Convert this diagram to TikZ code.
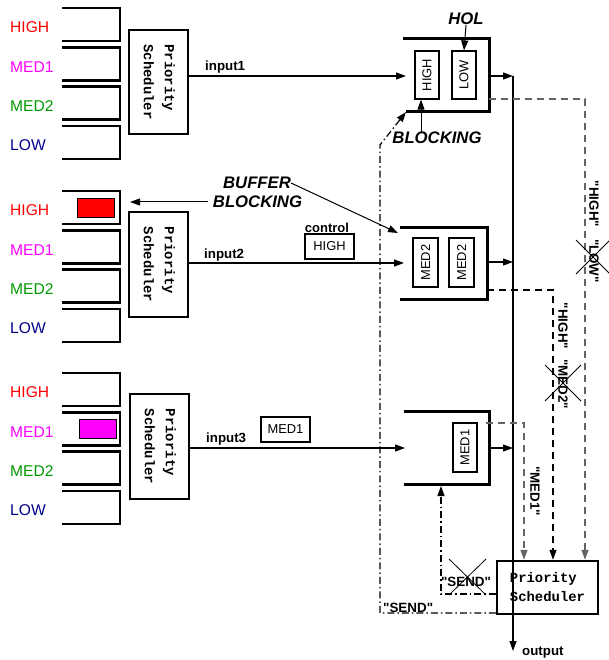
\documentclass[tikz,border=0pt]{standalone}
\usepackage{fontspec}
\setmainfont{Liberation Sans}
\setmonofont{Liberation Mono}
\newfontfamily\qfont{Liberation Sans}[Ligatures=NoCommon]
\usetikzlibrary{arrows.meta}
\definecolor{qhigh}{RGB}{255,0,0}
\definecolor{qmedone}{RGB}{255,0,255}
\definecolor{qmedtwo}{RGB}{0,153,0}
\definecolor{qlow}{RGB}{0,0,140}
\definecolor{dgray}{RGB}{100,100,100}
\newcommand{\schedtxt}{\begin{tabular}{@{}l@{}}Priority\\Scheduler\end{tabular}}
\newcommand{\myq}{{\qfont"}}
\tikzset{
 queue/.style={line width=2.5pt},
 qlabel/.style={anchor=west, inner sep=0pt, font=\fontsize{15.6}{18}\selectfont},
 vsched/.style={draw, line width=2.5pt, minimum width=59pt, minimum height=104pt, inner sep=0pt,
   font=\fontsize{13.9}{19}\ttfamily\bfseries\renewcommand{\arraystretch}{1.1}},
 holframe/.style={line width=3pt},
 ibox/.style={draw, line width=1.2pt, minimum width=24pt, minimum height=48pt, inner sep=0pt, font=\fontsize{12.9}{15}\selectfont},
 pkt/.style={draw, line width=1.2pt, minimum width=49pt, minimum height=25pt, inner sep=0pt, font=\fontsize{12.9}{15}\selectfont},
 arr/.style={line width=1.2pt, -{Triangle[length=10pt,width=7pt]}},
 thinarr/.style={line width=1pt, -{Triangle[length=10pt,width=7pt]}},
 blabel/.style={inner sep=0pt, font=\fontsize{13.3}{16}\selectfont\bfseries},
 bigital/.style={inner sep=0pt, font=\fontsize{16.7}{19}\selectfont\bfseries\itshape},
 vlabel/.style={inner sep=0pt, rotate=-90, font=\fontsize{13.4}{16}\selectfont\bfseries},
 dashedln/.style={line width=1.2pt, dash pattern=on 7pt off 5pt},
 dashdot/.style={line width=1.1pt, dash pattern=on 7pt off 3pt on 1.5pt off 3pt},
 crossln/.style={line width=0.8pt},
}
\begin{document}
\begin{tikzpicture}[x=1pt,y=-1pt]
\useasboundingbox (0,0) rectangle (608,660);

% ---- input queues ----
\foreach \g/\b in {1/8,2/191,3/373}{
  \foreach \k in {0,...,3}{
    \pgfmathsetmacro\t{\b+39.3*\k}
    \draw[queue] (62,\t) -- (120,\t) -- (120,{\t+33}) -- (62,{\t+33});
  }
  \node[qlabel,text=qhigh]   (hi\g) at (10,{\b+19.5}) {HIGH};
  \node[qlabel,text=qmedone] (mo\g) at (10,{\b+39.3+19.5}) {MED1};
  \node[qlabel,text=qmedtwo] (mt\g) at (10,{\b+78.6+19.5}) {MED2};
  \node[qlabel,text=qlow]    (lo\g) at (10,{\b+117.9+19.5}) {LOW};
}
\node[draw, line width=1pt, fill=qhigh, minimum width=37pt, minimum height=18pt, inner sep=0pt] (redpkt) at (95.5,208) {};
\node[draw, line width=1pt, fill=qmedone, minimum width=37pt, minimum height=19pt, inner sep=0pt] (magpkt) at (97.5,428.5) {};

% ---- input schedulers ----
\node[vsched] (s1) at (158.5,82) {\rotatebox{-90}{\schedtxt}};
\node[vsched, minimum height=105pt] (s2) at (158.5,264.5) {\rotatebox{-90}{\schedtxt}};
\node[vsched, minimum height=105pt] (s3) at (159.5,446.5) {\rotatebox{-90}{\schedtxt}};

% ---- output buffers ----
\draw[holframe] (403,39) -- (489,39) -- (489,112) -- (406,112);
\draw[holframe] (400,227) -- (487,227) -- (487,299) -- (400,299);
\draw[holframe] (404,411) -- (489,411) -- (489,484) -- (404,484);
\coordinate (b1bl) at (406,112);
\coordinate (b2tl) at (398,233);
\coordinate (b3bl) at (441,486);

\node[ibox] (b1hi) at (427,75) {\rotatebox{90}{HIGH}};
\node[ibox] (b1lo) at (464,75) {\rotatebox{90}{LOW}};
\node[ibox, minimum width=25pt, minimum height=49pt] (b2a) at (425.5,262.5) {\rotatebox{90}{MED2}};
\node[ibox, minimum width=25pt, minimum height=49pt] (b2b) at (461.5,262.5) {\rotatebox{90}{MED2}};
\node[ibox, minimum height=49pt] (b3a) at (465,447.5) {\rotatebox{90}{MED1}};

% ---- inputs ----
\coordinate (b1in) at (406,76);
\coordinate (b2in) at (404,263);
\coordinate (b3in) at (405,448);
\draw[arr] (s1.east |- b1in) -- (b1in);
\draw[arr] (s2.east |- b2in) -- (b2in);
\draw[arr] (s3.east |- b3in) -- (b3in);
\node[blabel, anchor=base west] (in1) at (205,71) {input1};
\node[blabel, anchor=base west] (in2) at (204,258) {input2};
\node[blabel, anchor=base west] (in3) at (206,442) {input3};
\node[blabel, font=\fontsize{13}{15}\selectfont\bfseries] (ctrl) at (327,228) {control};
\node[pkt] (ctrlpkt) at (329.5,246.5) {HIGH};
\node[pkt] (medpkt) at (285.5,429.5) {MED1};

% ---- output bus ----
\node[draw, line width=2.5pt, minimum width=101pt, minimum height=53pt, inner sep=0pt, align=left,
  font=\fontsize{13.9}{19}\ttfamily\bfseries] (s4) at (547.5,587.5) {Priority\\Scheduler};
\coordinate (outtop) at (513,76);
\coordinate (outbot) at (513,651);
\coordinate (b1out) at (489,76);
\coordinate (b2out) at (487,262);
\coordinate (b3out) at (489,448);
\draw[arr] (b1out) -- (outtop);
\draw[arr] (b2out) -- (outtop |- b2out);
\draw[arr] (b3out) -- (outtop |- b3out);
\draw[arr] (outtop) -- (outbot);
\node[blabel, anchor=base west] (outlbl) at (522,655) {output};

% ---- request lines ----
\coordinate (d1a) at (489,99);  \coordinate (d1b) at (585,99);
\coordinate (d2a) at (487,290); \coordinate (d2b) at (553,290);
\coordinate (d3a) at (486,423); \coordinate (d3b) at (524,423);
\draw[dashedln, dgray, arr] (d1a) -- (d1b) -- (d1b |- s4.north);
\draw[dashedln, arr] (d2a) -- (d2b) -- (d2b |- s4.north);
\draw[dashedln, dgray, arr] (d3a) -- (d3b) -- (d3b |- s4.north);

\node[vlabel] (lh1) at (594,204) {\myq HIGH\myq};
\node[vlabel] (ll1) at (594,261) {\myq LOW\myq};
\node[vlabel] (lh2) at (563,326) {\myq HIGH\myq};
\node[vlabel] (lm2) at (563,384) {\myq MED2\myq};
\node[vlabel] (lm1) at (535,491) {\myq MED1\myq};
\draw[crossln] ([shift={(-18,-21)}]ll1.center) -- ([shift={(16,13)}]ll1.center);
\draw[crossln] ([shift={(16,-21)}]ll1.center) -- ([shift={(-18,13)}]ll1.center);
\draw[crossln] ([shift={(-18,-19)}]lm2.center) -- ([shift={(18,17)}]lm2.center);
\draw[crossln] ([shift={(18,-19)}]lm2.center) -- ([shift={(-18,17)}]lm2.center);

% ---- SEND lines ----
\coordinate (c1) at (380,613);
\coordinate (c2) at (380,145);
\coordinate (c3) at (441,594);
\draw[dashdot, arr] (s4.west |- c1) -- (c1) -- (c2) -- (b1bl);
\draw[dashdot, arr] (s4.west |- c3) -- (c3) -- (b3bl);
\node[blabel, font=\fontsize{13.4}{16}\selectfont\bfseries, anchor=base west] (send1) at (383,612) {\myq SEND\myq};
\node[blabel, font=\fontsize{13.4}{16}\selectfont\bfseries] (send2) at (466,582) {\myq SEND\myq};
\draw[crossln] ([shift={(-17,-23)}]send2.center) -- ([shift={(20,13)}]send2.center);
\draw[crossln] ([shift={(20,-23)}]send2.center) -- ([shift={(-17,13)}]send2.center);

% ---- annotations ----
\node[bigital] (hol) at (466,19) {HOL};
\draw[thinarr] (hol.south) -- (b1lo.north);
\node[bigital] (blk) at (437,138) {BLOCKING};
\draw[thinarr] ([xshift=-6pt]b1hi.south |- blk.north) -- ([xshift=-6pt]b1hi.south);
\node[bigital] (buf) at (257,183) {BUFFER};
\node[bigital] (bblk) at (257.5,202) {BLOCKING};
\coordinate (qtip) at (130,202);
\draw[thinarr] (buf.east) -- (b2tl);
\draw[thinarr] ([xshift=-5pt]bblk.west) -- (qtip);
\end{tikzpicture}
\end{document}
